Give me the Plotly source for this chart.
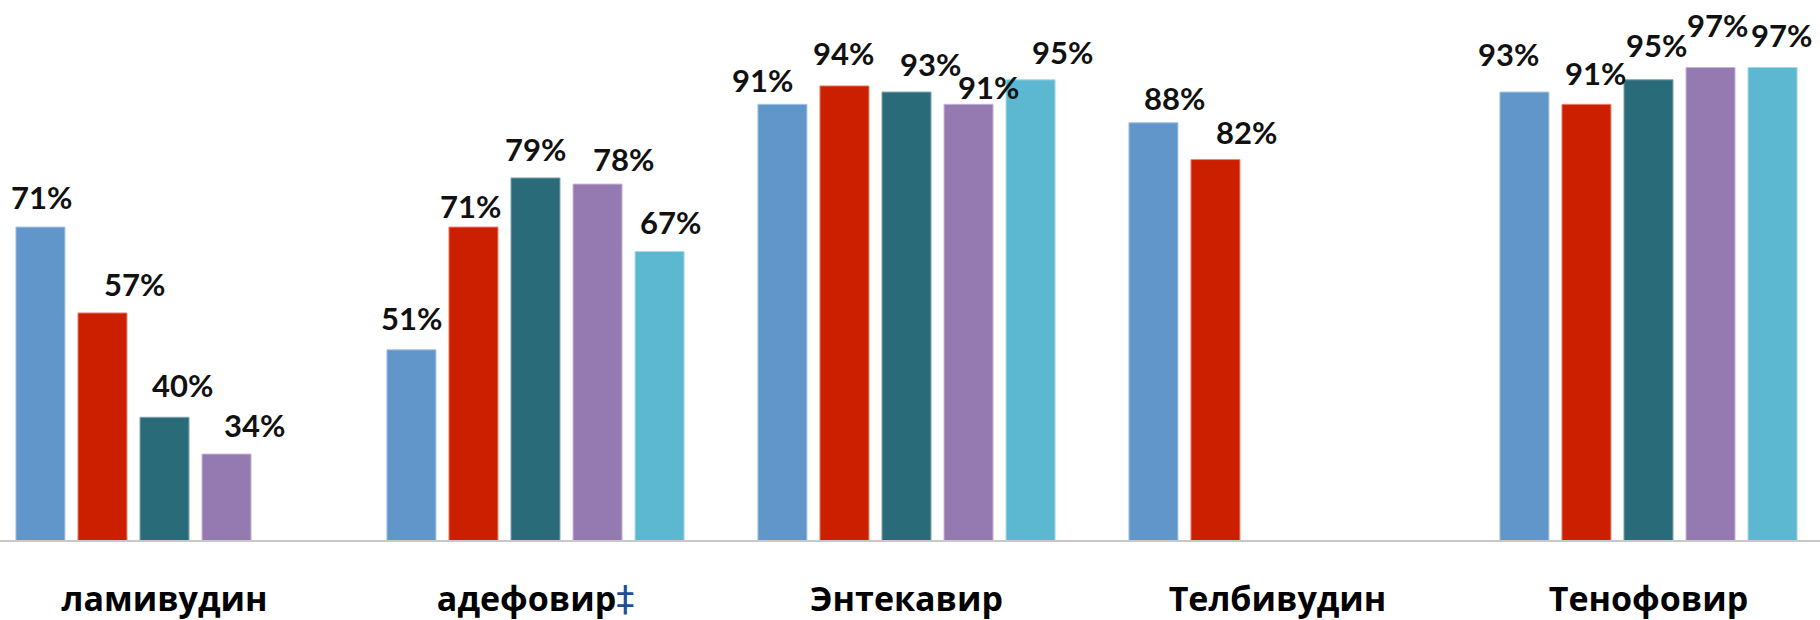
import plotly.graph_objects as go

# Virologic response by drug and year of therapy
drugs = ["ламивудин", "адефовир", "Энтекавир", "Телбивудин", "Тенофовир"]
drug_labels = [
    "ламивудин",
    "адефовир<span style='color:#1F4E99;font-family:DejaVu Sans;font-size:36px;font-weight:400'>‡</span>",
    "Энтекавир",
    "Телбивудин",
    "Тенофовир",
]
series_names = ["Год 1", "Год 2", "Год 3", "Год 4", "Год 5"]
year1 = [71, 51, 91, 88, 93]
year2 = [57, 71, 94, 82, 91]
year3 = [40, 79, 93, None, 95]
year4 = [34, 78, 91, None, 97]
year5 = [None, 67, 95, None, 97]

colors = ["#6096C9", "#CC1F00", "#2A6B7A", "#957AB2", "#5CB8D1"]
edges = ["#A9C5E3", "#E8846F", "#7FA6B0", "#C4B4D6", "#A4D8E6"]

# Hand placement of value labels (pixel nudges per series, per drug)
label_dx = [
    [1, 0, -20, 21, -16],
    [32, -3, -1, 31, 9],
    [18, 0, 24, 0, 8],
    [28, 26, 20, 0, 7],
    [0, 11, 32, 0, 9],
]
label_dy = [
    [1, 3, -5, -4, 9],
    [0, -8, 4, -1, 2],
    [3, 0, -1, 0, 6],
    [0, -4, -12, 0, 14],
    [0, 1, -1, 0, 4],
]

LABEL_FONT = "Lato, 'Open Sans', 'Noto Sans', sans-serif"
CAT_FONT = "'Open Sans', Lato, 'Noto Sans', sans-serif"
W, H = 1820, 620
X_RANGE = [-0.4434, 4.4623]
BARGAP = 0.164
LABEL_GAP = 8

all_series = [year1, year2, year3, year4, year5]
n_series = len(all_series)
cat_px = W / (X_RANGE[1] - X_RANGE[0])
slot_px = cat_px * (1 - BARGAP) / n_series

fig = go.Figure()
for name, vals, col, edge in zip(series_names, all_series, colors, edges):
    fig.add_trace(go.Bar(
        x=list(range(len(drugs))),
        y=vals,
        name=name,
        marker=dict(color=col, line=dict(color=edge, width=1)),
        hovertemplate="%{y}%<extra></extra>",
    ))

annotations = []
for j, vals in enumerate(all_series):
    for i, v in enumerate(vals):
        if v is None:
            continue
        annotations.append(dict(
            x=i, y=v, xref="x", yref="y",
            text=f"{v}%",
            showarrow=False,
            xanchor="center", yanchor="bottom",
            xshift=(j - (n_series - 1) / 2) * slot_px + label_dx[j][i],
            yshift=LABEL_GAP + label_dy[j][i],
            font=dict(family=LABEL_FONT, size=31, color="#111111", weight="bold"),
        ))

fig.update_layout(
    width=W,
    height=H,
    margin=dict(l=0, r=0, t=0, b=80),
    paper_bgcolor="white",
    plot_bgcolor="white",
    barmode="group",
    bargap=BARGAP,
    bargroupgap=0.21,
    showlegend=False,
    annotations=annotations,
    xaxis=dict(
        range=X_RANGE,
        automargin=False,
        tickmode="array",
        tickvals=list(range(len(drugs))),
        ticktext=drug_labels,
        tickfont=dict(family=CAT_FONT, size=34, color="#000000", weight="bold"),
        showline=True,
        linecolor="#C8C8C8",
        linewidth=2,
        showgrid=False,
        zeroline=False,
        ticks="outside",
        ticklen=28,
        tickcolor="rgba(0,0,0,0)",
    ),
    yaxis=dict(
        range=[20, 108],
        automargin=False,
        visible=False,
        showgrid=False,
        zeroline=False,
    ),
)

fig.write_html("out.html")
